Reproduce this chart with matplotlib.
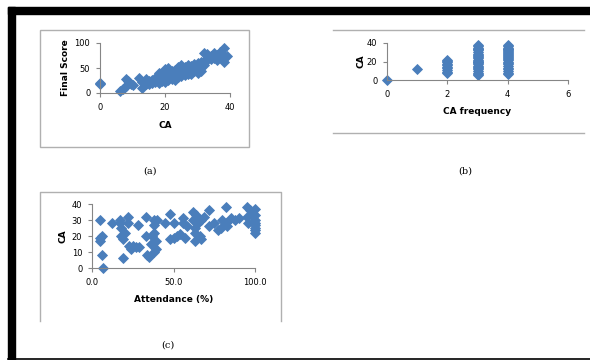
import matplotlib.pyplot as plt
from matplotlib.patches import Rectangle
from matplotlib.lines import Line2D

# (a) CA vs Final Score
ca_a = [0, 0, 6, 7, 7.5, 8, 8, 8.5, 9, 9.5, 10,
        12, 13, 13, 14, 14, 15, 15, 16, 16, 17, 17, 18, 18, 18, 19, 19, 19,
        20, 20, 20, 20, 21, 21, 21, 21, 22, 22, 22, 22, 23, 23, 23, 23, 24, 24, 24, 24,
        25, 25, 25, 25, 26, 26, 26, 26, 27, 27, 27, 27, 28, 28, 28, 28, 29, 29, 29,
        30, 30, 30, 30, 31, 31, 31, 32, 32, 32, 33, 33, 34, 34, 35, 35, 36, 36, 37, 37,
        38, 38, 38, 39]
score_a = [19, 21, 5, 8, 10, 28, 14, 24, 20, 18, 16,
           30, 22, 10, 28, 18, 24, 18, 26, 20, 30, 22, 40, 26, 20, 34, 24, 28,
           48, 38, 30, 22, 50, 36, 30, 26, 44, 34, 28, 40, 46, 38, 30, 26, 52, 42, 36, 32,
           56, 44, 38, 34, 48, 42, 36, 52, 56, 46, 40, 38, 54, 48, 42, 38, 58, 50, 44,
           60, 54, 46, 40, 62, 52, 44, 80, 64, 56, 78, 66, 74, 68, 80, 70, 76, 66, 82, 72,
           90, 62, 74, 75]

# (b) CA frequency vs CA
freq_b = [0, 1, 2, 2, 2, 2, 2, 2, 2, 2, 2, 2,
          3, 3, 3, 3, 3, 3, 3, 3, 3, 3, 3, 3, 3, 3, 3, 3, 3, 3, 3, 3, 3, 3, 3, 3, 3, 3,
          4, 4, 4, 4, 4, 4, 4, 4, 4, 4, 4, 4, 4, 4, 4, 4, 4, 4, 4, 4, 4, 4, 4, 4, 4]
ca_b = [0, 12, 8, 9, 11, 13, 14, 16, 17, 19, 21, 22,
        5, 6, 8, 10, 12, 13, 14, 15, 17, 18, 19, 20, 21, 22, 24, 25, 26, 27, 28, 30,
        32, 33, 34, 35, 37, 38,
        7, 8, 10, 12, 13, 15, 17, 18, 20, 22, 23, 24, 25, 26, 27, 28, 29, 30, 31, 32,
        33, 34, 35, 37, 38]

# (c) Attendance vs CA
att_c = [5, 5, 5, 6, 7, 6, 12, 17, 17, 18, 18, 19, 19, 20, 22, 22, 23, 24, 25, 27,
         28, 29, 33, 33, 34, 35, 36, 37, 38, 38, 38, 38, 39, 39, 40, 45, 48, 48, 50, 50,
         52, 54, 56, 56, 57, 58, 62, 62, 63, 63, 63, 64, 65, 66, 67, 67, 69, 72, 72, 75,
         77, 79, 80, 82, 82, 83, 85, 88, 90, 95, 95, 96, 97, 98,
         100, 100, 100, 100, 100, 100, 100, 100]
ca_c = [30, 17, 19, 8, 0, 20, 28, 28, 30, 25, 20, 18, 6, 22, 32, 28, 14, 12, 14, 13,
        27, 13, 32, 20, 8, 7, 15, 20, 22, 27, 30, 10, 12, 17, 30, 28, 34, 18, 28, 19,
        20, 21, 31, 28, 19, 26, 35, 30, 25, 22, 17, 33, 28, 20, 30, 18, 32, 36, 26, 28,
        24, 25, 30, 38, 28, 26, 31, 30, 31, 38, 32, 28, 36, 33,
        37, 33, 30, 28, 25, 22, 24, 27]

blue = '#4a7ebb'
axis_grey = '#868686'
box_grey = '#b0b0b0'

fig = plt.figure(figsize=(5.9, 3.6), dpi=100)
plt.rcParams['font.family'] = ['DejaVu Sans']


def px(x0, y0, x1, y1):
    # pixel box -> figure fraction [left, bottom, width, height]
    return [x0 / 590, 1 - y1 / 360, (x1 - x0) / 590, (y1 - y0) / 360]


def style_axes(ax):
    for s in ['top', 'right']:
        ax.spines[s].set_visible(False)
    for s in ['left', 'bottom']:
        ax.spines[s].set_color(axis_grey)
        ax.spines[s].set_linewidth(0.8)
    ax.tick_params(direction='out', length=3, width=0.8, color=axis_grey,
                   labelsize=6, pad=4)
    ax.set_facecolor('none')


def scatter(ax, x, y):
    ax.plot(x, y, 'D', color=blue, ms=5.2, mec=blue, mew=0.6, clip_on=False)


# panel (a)
ax1 = fig.add_axes(px(100, 43, 230, 93))
scatter(ax1, ca_a, score_a)
ax1.set_xlim(0, 40)
ax1.set_ylim(0, 100)
ax1.set_xticks([0, 20, 40])
ax1.set_yticks([0, 50, 100])
ax1.set_xlabel('CA', fontsize=6.5, fontweight='bold', labelpad=7)
ax1.set_ylabel('Final Score', fontsize=6.5, fontweight='bold', labelpad=3)
style_axes(ax1)

# panel (b)
ax2 = fig.add_axes(px(387, 43, 568, 80))
scatter(ax2, freq_b, ca_b)
ax2.set_xlim(0, 6)
ax2.set_ylim(0, 40)
ax2.set_xticks([0, 2, 4, 6])
ax2.set_yticks([0, 20, 40])
ax2.set_xlabel('CA frequency', fontsize=6.5, fontweight='bold', labelpad=6)
ax2.set_ylabel('CA', fontsize=6.5, fontweight='bold', labelpad=1)
style_axes(ax2)

# panel (c)
ax3 = fig.add_axes(px(92, 204, 255, 268))
scatter(ax3, att_c, ca_c)
ax3.set_xlim(0, 100)
ax3.set_ylim(0, 40)
ax3.set_xticks([0, 50, 100])
ax3.set_xticklabels(['0.0', '50.0', '100.0'])
ax3.set_yticks([0, 10, 20, 30, 40])
ax3.set_xlabel('Attendance (%)', fontsize=6.5, fontweight='bold', labelpad=6)
ax3.set_ylabel('CA', fontsize=6.5, fontweight='bold', labelpad=3)
style_axes(ax3)

# chart boxes
fig.patches.append(Rectangle((40 / 590, 1 - 147 / 360), 209 / 590, 117 / 360,
                             transform=fig.transFigure, fill=False,
                             edgecolor=box_grey, lw=1))
for yy in [30, 133]:
    fig.lines.append(Line2D([333 / 590, 584 / 590], [1 - yy / 360] * 2,
                            transform=fig.transFigure, color=box_grey, lw=1))
fig.lines.append(Line2D([40 / 590, 40 / 590, 281 / 590, 281 / 590],
                        [1 - 321 / 360, 1 - 192 / 360, 1 - 192 / 360, 1 - 321 / 360],
                        transform=fig.transFigure, color=box_grey, lw=1))

# captions
for label, x, y in [('(a)', 150, 171), ('(b)', 465, 171), ('(c)', 168, 345)]:
    fig.text(x / 590, 1 - y / 360, label, ha='center', va='center',
             fontsize=7, family='DejaVu Serif')

# outer black frame
fig.patches.append(Rectangle((8 / 590, 1 - 14 / 360), 582 / 590, 7 / 360,
                             transform=fig.transFigure, color='black'))
fig.patches.append(Rectangle((8 / 590, 0), 7 / 590, 1 - 7 / 360,
                             transform=fig.transFigure, color='black'))
fig.lines.append(Line2D([8 / 590, 1], [1.5 / 360] * 2,
                        transform=fig.transFigure, color='black', lw=1.2))

fig.savefig('out.png', dpi=100)
